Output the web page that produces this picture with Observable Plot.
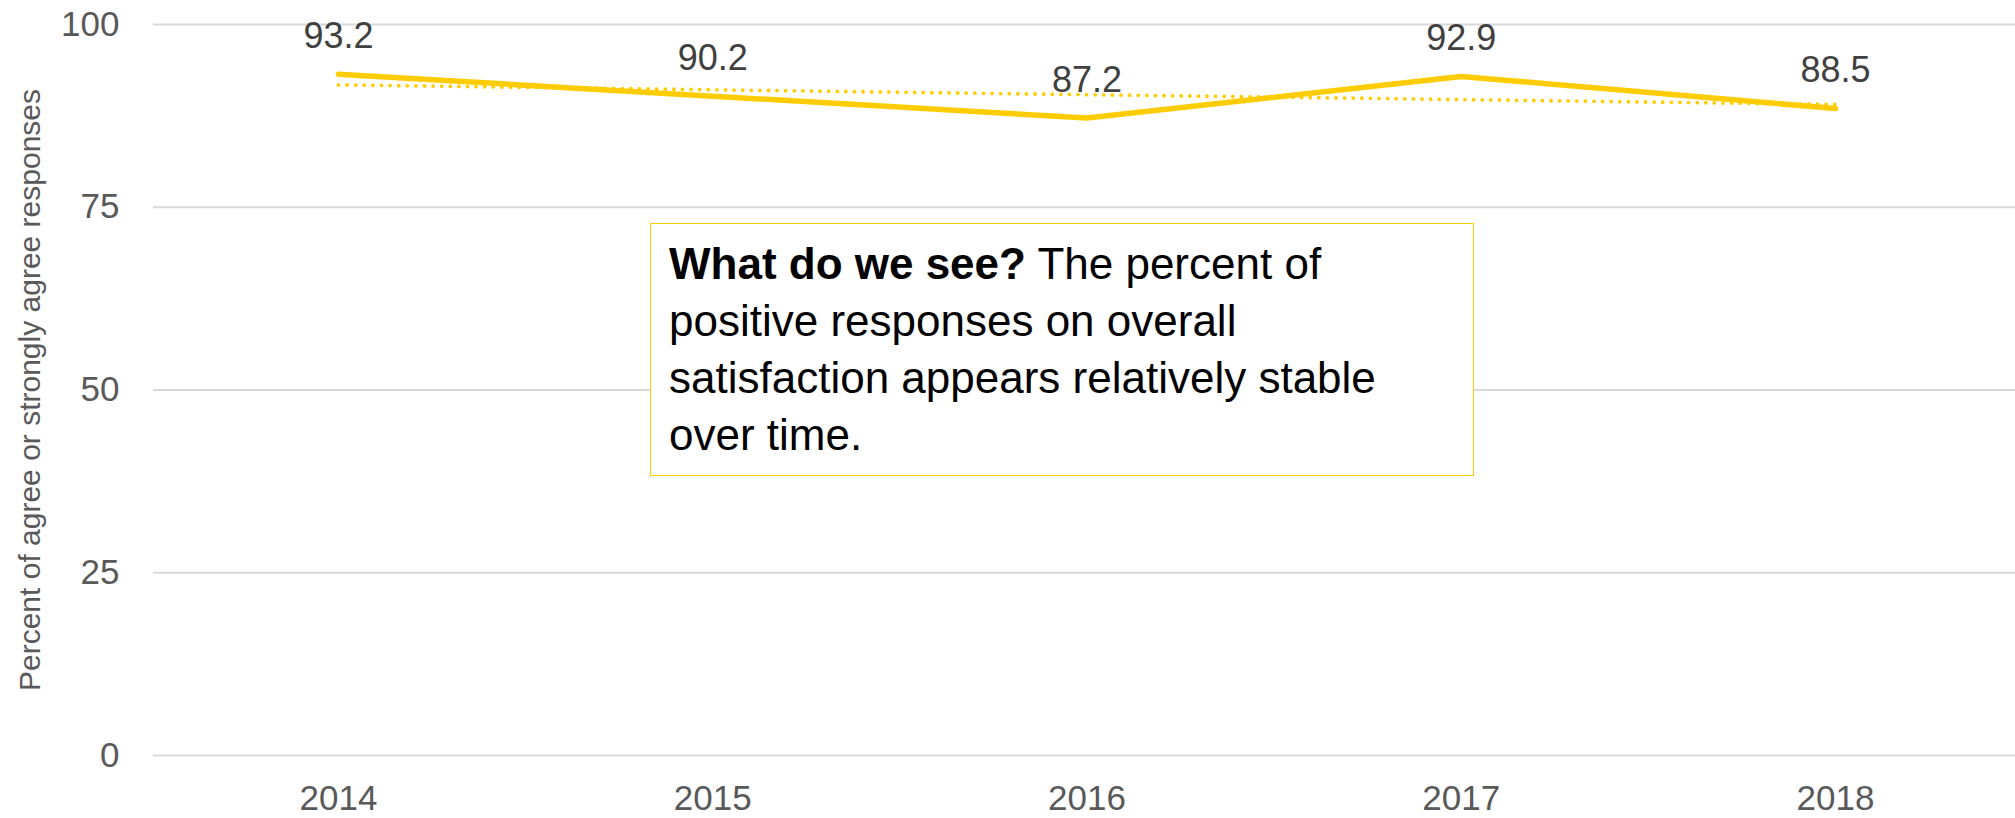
<!DOCTYPE html>
<html>
<head>
<meta charset="utf-8">
<script src="https://cdn.jsdelivr.net/npm/d3@7"></script>
<script src="https://cdn.jsdelivr.net/npm/@observablehq/plot@0.6"></script>
<style>
  body { margin: 0; background: #fff; }
  #wrap { position: relative; width: 2015px; height: 818px; overflow: hidden; font-family: "Liberation Sans", Arial, sans-serif; }
  #wrap svg { position: absolute; left: 0; top: 0; }
  #note {
    position: absolute; left: 650px; top: 223px; width: 824px; height: 253px;
    box-sizing: border-box; border: 1.5px solid #ffcc00; background: #fff;
    padding: 11px 0 0 18px; font-size: 44px; line-height: 57px; color: #000;
    white-space: nowrap; font-family: "Liberation Sans", Arial, sans-serif;
  }
  #note b { font-weight: 700; }
</style>
</head>
<body>
<div id="wrap"></div>
<script>
const years = [2014, 2015, 2016, 2017, 2018];
const values = [93.2, 90.2, 87.2, 92.9, 88.5];
const yTicks = [0, 25, 50, 75, 100];
const yLabel = "Percent of agree or strongly agree responses";
const noteBold = "What do we see?";
const noteLines = [" The percent of", "positive responses on overall", "satisfaction appears relatively stable", "over time."];

const data = years.map((year, i) => ({year, value: values[i]}));
const gold = "#ffcc00";

const chart = Plot.plot({
  width: 2015,
  height: 818,
  marginTop: 24,
  marginBottom: 63,
  marginLeft: 153,
  marginRight: 0,
  style: {fontFamily: "Liberation Sans, Arial, sans-serif", background: "#fff", overflow: "visible"},
  x: {type: "linear", domain: [2014, 2018], range: [338, 1835]},
  y: {domain: [0, 100]},
  marks: [
    Plot.gridY(yTicks, {stroke: "#d9d9d9", strokeOpacity: 1, strokeWidth: 2}),
    Plot.axisY(yTicks, {tickSize: 0, tickPadding: 34, fontSize: 35, color: "#595959", label: null}),
    Plot.axisX(years, {tickSize: 0, tickPadding: 30, fontSize: 35, color: "#595959", tickFormat: d => String(d), label: null}),
    Plot.text([yLabel], {text: d => d, frameAnchor: "left", rotate: -90, dx: -135, textAnchor: "middle", lineAnchor: "top", fontSize: 30, fill: "#595959"}),
    Plot.linearRegressionY(data, {x: "year", y: "value", stroke: gold, strokeWidth: 3.8, strokeDasharray: "0 8.6", strokeLinecap: "round", ci: 0}),
    Plot.line(data, {x: "year", y: "value", stroke: gold, strokeWidth: 5.5}),
    Plot.text(data, {x: "year", y: "value", text: d => d.value.toFixed(1), dy: -38, fontSize: 36, fill: "#404040"})
  ]
});

const wrap = document.getElementById("wrap");
wrap.appendChild(chart);

const note = document.createElement("div");
note.id = "note";
const b = document.createElement("b");
b.textContent = noteBold;
note.appendChild(b);
noteLines.forEach((line, i) => {
  if (i > 0) note.appendChild(document.createElement("br"));
  note.appendChild(document.createTextNode(line));
});
wrap.appendChild(note);
</script>
</body>
</html>
